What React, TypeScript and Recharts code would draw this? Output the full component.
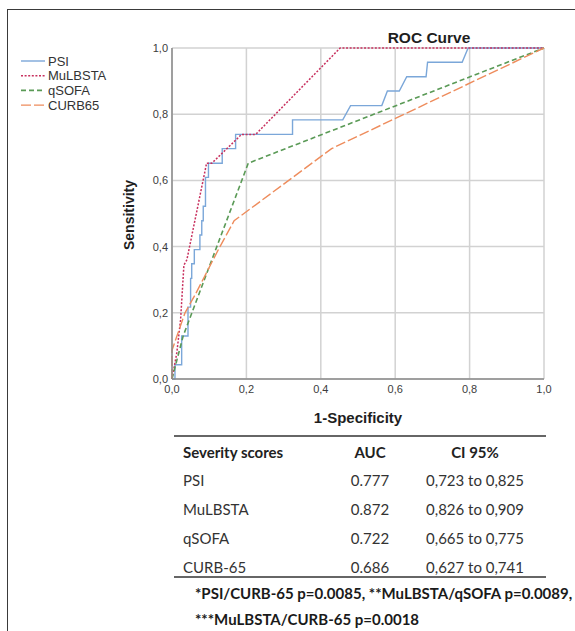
import { CartesianGrid, Line, LineChart, XAxis, YAxis } from 'recharts'

type RocPoint = { fpr: number; tpr: number }

// ROC points (1-specificity, sensitivity)
const psiPoints: RocPoint[] = [
  { fpr: 0, tpr: 0 }, { fpr: 0.008, tpr: 0 }, { fpr: 0.008, tpr: 0.043 }, { fpr: 0.026, tpr: 0.043 },
  { fpr: 0.026, tpr: 0.13 }, { fpr: 0.043, tpr: 0.13 }, { fpr: 0.043, tpr: 0.217 }, { fpr: 0.05, tpr: 0.217 },
  { fpr: 0.05, tpr: 0.304 }, { fpr: 0.053, tpr: 0.304 }, { fpr: 0.053, tpr: 0.348 }, { fpr: 0.06, tpr: 0.348 },
  { fpr: 0.06, tpr: 0.391 }, { fpr: 0.075, tpr: 0.391 }, { fpr: 0.075, tpr: 0.435 }, { fpr: 0.08, tpr: 0.435 },
  { fpr: 0.08, tpr: 0.478 }, { fpr: 0.084, tpr: 0.478 }, { fpr: 0.084, tpr: 0.522 }, { fpr: 0.09, tpr: 0.522 },
  { fpr: 0.09, tpr: 0.609 }, { fpr: 0.098, tpr: 0.609 }, { fpr: 0.098, tpr: 0.652 }, { fpr: 0.135, tpr: 0.652 },
  { fpr: 0.135, tpr: 0.696 }, { fpr: 0.171, tpr: 0.696 }, { fpr: 0.171, tpr: 0.739 }, { fpr: 0.324, tpr: 0.739 },
  { fpr: 0.324, tpr: 0.783 }, { fpr: 0.459, tpr: 0.783 }, { fpr: 0.48, tpr: 0.826 }, { fpr: 0.564, tpr: 0.826 },
  { fpr: 0.579, tpr: 0.87 }, { fpr: 0.611, tpr: 0.87 }, { fpr: 0.631, tpr: 0.913 }, { fpr: 0.683, tpr: 0.913 },
  { fpr: 0.687, tpr: 0.957 }, { fpr: 0.78, tpr: 0.957 }, { fpr: 0.796, tpr: 1 }, { fpr: 1, tpr: 1 },
]

const mulbstaPoints: RocPoint[] = [
  { fpr: 0, tpr: 0 }, { fpr: 0.013, tpr: 0.08 }, { fpr: 0.023, tpr: 0.178 }, { fpr: 0.032, tpr: 0.344 },
  { fpr: 0.04, tpr: 0.36 }, { fpr: 0.093, tpr: 0.652 }, { fpr: 0.107, tpr: 0.652 }, { fpr: 0.187, tpr: 0.739 },
  { fpr: 0.225, tpr: 0.739 }, { fpr: 0.452, tpr: 1 }, { fpr: 1, tpr: 1 },
]

const qsofaPoints: RocPoint[] = [
  { fpr: 0, tpr: 0 }, { fpr: 0.03, tpr: 0.13 }, { fpr: 0.205, tpr: 0.652 }, { fpr: 1, tpr: 1 },
]

const curb65Points: RocPoint[] = [
  { fpr: 0, tpr: 0 }, { fpr: 0, tpr: 0.087 }, { fpr: 0.035, tpr: 0.2 }, { fpr: 0.062, tpr: 0.254 },
  { fpr: 0.127, tpr: 0.396 }, { fpr: 0.167, tpr: 0.478 }, { fpr: 0.429, tpr: 0.696 }, { fpr: 1, tpr: 1 },
]

const axisTicks = [0, 0.2, 0.4, 0.6, 0.8, 1]

const seriesNames = ['PSI', 'MuLBSTA', 'qSOFA', 'CURB65']
const seriesColors = ['#7ba7d9', '#c8305e', '#5a9a56', '#ee8c5c']
const seriesDashes = ['', '2 1.6', '5 3', '10 3']
const seriesWidths = [1.4, 1.5, 1.6, 1.4]
const seriesData = [psiPoints, mulbstaPoints, qsofaPoints, curb65Points]

const tableHeader = ['Severity scores', 'AUC', 'CI 95%']
const tableScores = ['PSI', 'MuLBSTA', 'qSOFA', 'CURB-65']
const tableAuc = ['0.777', '0.872', '0.722', '0.686']
const tableCi = ['0,723 to 0,825', '0,826 to 0,909', '0,665 to 0,775', '0,627 to 0,741']
const footnotes = [
  '*PSI/CURB-65 p=0.0085, **MuLBSTA/qSOFA p=0.0089,',
  '***MuLBSTA/CURB-65 p=0.0018',
]

const CHART_FONT = '"Liberation Sans", Arial, sans-serif'
const TABLE_FONT = 'Lato, "Open Sans", sans-serif'

const fmt = (v: number) => v.toFixed(1).replace('.', ',')

export default function App() {
  return (
    <div
      style={{
        position: 'absolute',
        left: 0,
        top: 0,
        width: 575,
        height: 631,
        background: '#fff',
        overflow: 'hidden',
        fontFamily: CHART_FONT,
      }}
    >
      {/* frame */}
      <div
        style={{
          position: 'absolute',
          left: 7,
          top: 9,
          width: 600,
          height: 640,
          borderLeft: '1px solid #3a3a3a',
          borderTop: '1px solid #3a3a3a',
        }}
      />

      <div style={{ position: 'absolute', left: 0, top: 0 }}>
        <LineChart width={575} height={400} margin={{ top: 48, right: 31, bottom: 0, left: 0 }}>
          <CartesianGrid stroke="#d2d2d2" strokeWidth={1.5} />
          <XAxis
            type="number"
            dataKey="fpr"
            domain={[0, 1]}
            ticks={axisTicks}
            tickFormatter={fmt}
            height={21}
            tickLine={false}
            tickSize={4}
            tickMargin={2}
            stroke="#8a8a8a"
            strokeWidth={1.5}
            tick={{ fontSize: 11, fill: '#3c3c3c', fontFamily: CHART_FONT }}
          />
          <YAxis
            type="number"
            dataKey="tpr"
            domain={[0, 1]}
            ticks={axisTicks}
            tickFormatter={fmt}
            width={172}
            tickLine={false}
            tickSize={2}
            tickMargin={2}
            stroke="#8a8a8a"
            strokeWidth={1.5}
            tick={{ fontSize: 11, fill: '#3c3c3c', fontFamily: CHART_FONT }}
          />
          {seriesNames.map((name, i) => (
            <Line
              key={name}
              data={seriesData[i]}
              dataKey="tpr"
              name={name}
              type="linear"
              stroke={seriesColors[i]}
              strokeWidth={seriesWidths[i]}
              strokeDasharray={seriesDashes[i] || undefined}
              dot={false}
              activeDot={false}
              isAnimationActive={false}
            />
          ))}
        </LineChart>
      </div>

      {/* title and axis labels */}
      <svg
        width={575}
        height={440}
        style={{ position: 'absolute', left: 0, top: 0, pointerEvents: 'none' }}
      >
        <text x={429} y={37} textAnchor="middle" dominantBaseline="central" fontSize={15.5} fontWeight="bold" fill="#1e1e1e" fontFamily={CHART_FONT}>
          ROC Curve
        </text>
        <text x={358} y={417} textAnchor="middle" dominantBaseline="central" fontSize={15} fontWeight="bold" fill="#1e1e1e" fontFamily={CHART_FONT}>
          1-Specificity
        </text>
        <text
          x={129}
          y={215}
          textAnchor="middle"
          dominantBaseline="central"
          fontSize={14}
          fontWeight="bold"
          fill="#1e1e1e"
          fontFamily={CHART_FONT}
          transform="rotate(-90 129 215)"
        >
          Sensitivity
        </text>
      </svg>

      {/* legend */}
      <svg width={130} height={70} style={{ position: 'absolute', left: 14, top: 50 }}>
        {seriesNames.map((name, i) => {
          const y = 11 + i * 14.7
          return (
            <g key={name}>
              <line
                x1={7}
                x2={31}
                y1={y}
                y2={y}
                stroke={seriesColors[i]}
                strokeWidth={seriesWidths[i]}
                strokeDasharray={seriesDashes[i] || undefined}
              />
              <text x={34} y={y} dominantBaseline="central" fontSize={13} fill="#333" fontFamily={CHART_FONT}>
                {name}
              </text>
            </g>
          )
        })}
      </svg>

      {/* table */}
      <div style={{ position: 'absolute', left: 174, top: 435, width: 372, height: 2, background: '#666' }} />
      <div style={{ position: 'absolute', left: 174, top: 576, width: 372, height: 2, background: '#666' }} />
      {[tableHeader, ...tableScores.map((s, i) => [s, tableAuc[i], tableCi[i]])].map((row, r) => {
        const top = (r === 0 ? 452 : 480 + (r - 1) * 29) - 10
        const style = {
          position: 'absolute' as const,
          top,
          height: 20,
          lineHeight: '20px',
          fontFamily: TABLE_FONT,
          fontSize: 15,
          fontWeight: r === 0 ? 700 : 400,
          color: r === 0 ? '#222' : '#333',
          whiteSpace: 'nowrap' as const,
        }
        return (
          <div key={r}>
            <div style={{ ...style, left: 183 }}>{row[0]}</div>
            <div style={{ ...style, left: 320, width: 100, textAlign: 'center' }}>{row[1]}</div>
            <div style={{ ...style, left: 415, width: 120, textAlign: 'center' }}>{row[2]}</div>
          </div>
        )
      })}
      {footnotes.map((f, i) => (
        <div
          key={i}
          style={{
            position: 'absolute',
            left: 195,
            top: 583 + i * 26,
            height: 20,
            lineHeight: '20px',
            fontFamily: TABLE_FONT,
            fontSize: 15,
            fontWeight: 700,
            color: '#1a1a1a',
            whiteSpace: 'nowrap',
          }}
        >
          {f}
        </div>
      ))}
    </div>
  )
}
